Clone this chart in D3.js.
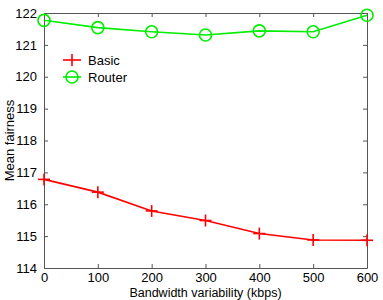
<!DOCTYPE html>
<html>
<head>
<meta charset="utf-8">
<script src="https://cdn.jsdelivr.net/npm/d3@7"></script>
<style>
  body { margin: 0; background: #fff; }
  text { font-family: "Liberation Sans", Arial, sans-serif; fill: #000; }
</style>
</head>
<body>
<svg width="383" height="300"></svg>
<script>
const bandwidth = [0, 100, 200, 300, 400, 500, 600];
const basic = [116.78, 116.38, 115.79, 115.49, 115.08, 114.88, 114.87];
const router = [121.77, 121.54, 121.41, 121.31, 121.44, 121.41, 121.93];
const xTicks = [0, 100, 200, 300, 400, 500, 600];
const yTicks = [114, 115, 116, 117, 118, 119, 120, 121, 122];

const svg = d3.select("svg");
const plot = { left: 44, right: 367, top: 13, bottom: 268 };

const x = d3.scaleLinear().domain([0, 600]).range([plot.left, plot.right]);
const y = d3.scaleLinear().domain([114, 122]).range([plot.bottom, plot.top]);

// axes box with inward ticks
const axisColor = "#555";
const bottomAxis = svg.append("g").attr("transform", "translate(0," + plot.bottom + ")")
    .call(d3.axisBottom(x).tickValues(xTicks).tickSizeInner(-4).tickSizeOuter(0).tickPadding(5));
const topAxis = svg.append("g").attr("transform", "translate(0," + plot.top + ")")
    .call(d3.axisTop(x).tickValues(xTicks).tickSizeInner(-4).tickSizeOuter(0).tickFormat(""));
const leftAxis = svg.append("g").attr("transform", "translate(" + plot.left + ",0)")
    .call(d3.axisLeft(y).tickValues(yTicks).tickSizeInner(-4).tickSizeOuter(0).tickPadding(7));
const rightAxis = svg.append("g").attr("transform", "translate(" + plot.right + ",0)")
    .call(d3.axisRight(y).tickValues(yTicks).tickSizeInner(-4).tickSizeOuter(0).tickFormat(""));

[bottomAxis, topAxis, leftAxis, rightAxis].forEach(a => {
    a.select(".domain").attr("stroke", axisColor);
    a.selectAll(".tick line").attr("stroke", axisColor);
    a.selectAll("text").style("font-size", "13px").attr("fill", "#000");
});

const line = d3.line().x((d, i) => x(bandwidth[i])).y(d => y(d));

// Basic series
svg.append("path").datum(basic)
    .attr("fill", "none").attr("stroke", "#ff0000").attr("stroke-width", 1.6)
    .attr("d", line);
const plus = svg.append("g").selectAll("g").data(basic).enter().append("g")
    .attr("transform", (d, i) => "translate(" + x(bandwidth[i]) + "," + y(d) + ")");
plus.append("line").attr("x1", -6).attr("x2", 6).attr("stroke", "#ff0000").attr("stroke-width", 1.6);
plus.append("line").attr("y1", -6).attr("y2", 6).attr("stroke", "#ff0000").attr("stroke-width", 1.6);

// Router series
svg.append("path").datum(router)
    .attr("fill", "none").attr("stroke", "#00ee00").attr("stroke-width", 1.6)
    .attr("d", line);
svg.append("g").selectAll("circle").data(router).enter().append("circle")
    .attr("cx", (d, i) => x(bandwidth[i])).attr("cy", d => y(d)).attr("r", 6)
    .attr("fill", "none").attr("stroke", "#00ee00").attr("stroke-width", 1.6);

// legend
const legend = svg.append("g");
const lg1 = legend.append("g").attr("transform", "translate(0,60)");
lg1.append("line").attr("x1", 63).attr("x2", 81).attr("stroke", "#ff0000").attr("stroke-width", 1.6);
lg1.append("line").attr("x1", 72).attr("x2", 72).attr("y1", -6).attr("y2", 6).attr("stroke", "#ff0000").attr("stroke-width", 1.6);
lg1.append("text").attr("x", 88).attr("y", 5).style("font-size", "13px").text("Basic");
const lg2 = legend.append("g").attr("transform", "translate(0,77)");
lg2.append("line").attr("x1", 63).attr("x2", 81).attr("stroke", "#00ee00").attr("stroke-width", 1.6);
lg2.append("circle").attr("cx", 72).attr("r", 6).attr("fill", "none").attr("stroke", "#00ee00").attr("stroke-width", 1.6);
lg2.append("text").attr("x", 88).attr("y", 5).style("font-size", "13px").text("Router");

// axis labels
svg.append("text").attr("x", (plot.left + plot.right) / 2).attr("y", 297)
    .attr("text-anchor", "middle").style("font-size", "12.5px")
    .text("Bandwidth variability (kbps)");
svg.append("text").attr("transform", "translate(14," + (plot.top + plot.bottom) / 2 + ") rotate(-90)")
    .attr("text-anchor", "middle").style("font-size", "13px")
    .text("Mean fairness");
</script>
</body>
</html>
